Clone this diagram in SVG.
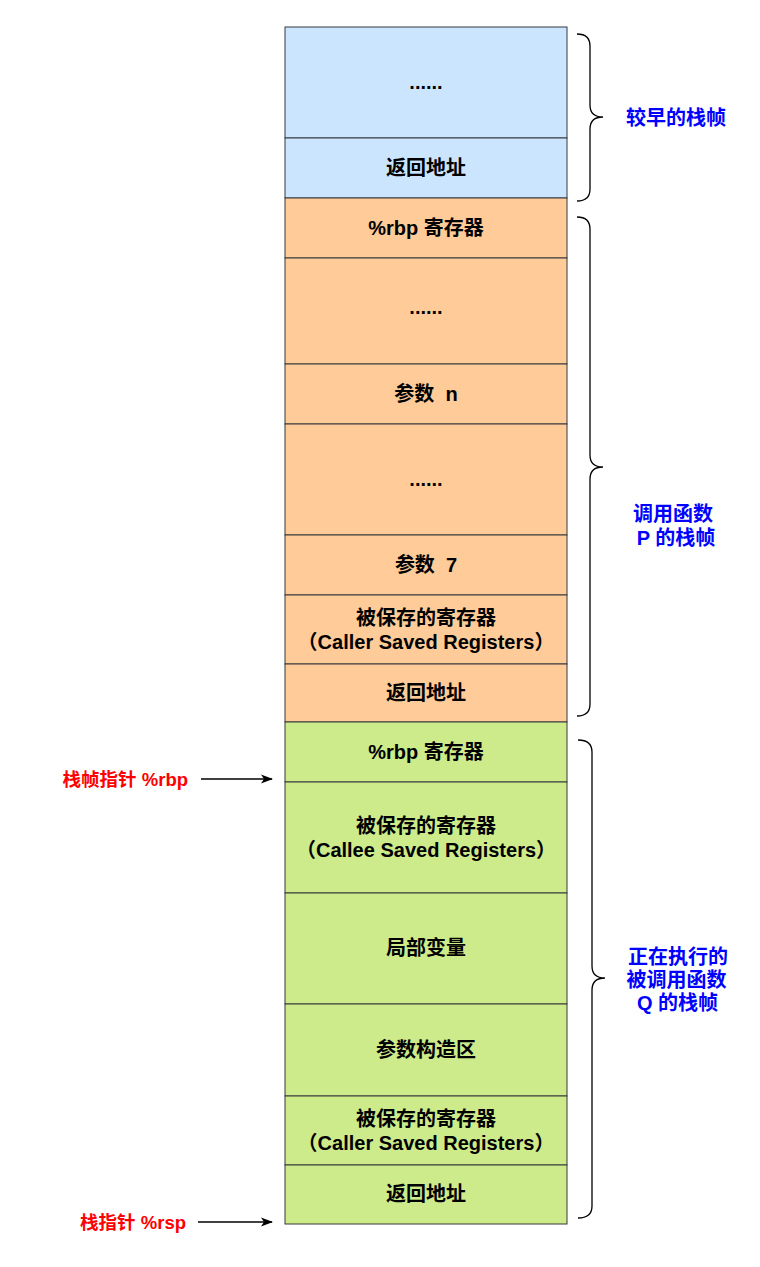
<svg xmlns="http://www.w3.org/2000/svg" width="760" height="1267" viewBox="0 0 760 1267">
<style>
.b{fill:#cce5ff;stroke:#36393d;stroke-width:1}
.o{fill:#ffcc99;stroke:#36393d;stroke-width:1}
.g{fill:#cdeb8b;stroke:#36393d;stroke-width:1}
text{font-family:"Liberation Sans","Noto Sans CJK SC",sans-serif;font-weight:bold;white-space:pre}
.t{font-size:20px;fill:#000;text-anchor:middle}
.l{font-size:20px;fill:#0000ff;text-anchor:middle}
.r{font-size:18.5px;fill:#ff0000;text-anchor:end}
.br{fill:none;stroke:#000;stroke-width:1.3}
.ar{fill:none;stroke:#000;stroke-width:1.3}
</style>
<defs>
<marker id="ah" viewBox="0 0 12 10" refX="11" refY="5" markerWidth="12" markerHeight="10" markerUnits="userSpaceOnUse" orient="auto">
<path d="M0,0.5 L12,5 L0,9.5 L3,5 Z" fill="#000"/>
</marker>
</defs>
<rect width="760" height="1267" fill="#fff"/>
<g id="n1"><rect class="b" x="285" y="27" width="282" height="111"/><text class="t" x="426" y="89">......</text></g>
<g id="n2"><rect class="b" x="285" y="138" width="282" height="60"/><text class="t" x="426" y="175">返回地址</text></g>
<g id="n3"><rect class="o" x="285" y="198" width="282" height="60"/><text class="t" x="426" y="235">%rbp 寄存器</text></g>
<g id="n4"><rect class="o" x="285" y="258" width="282" height="106"/><text class="t" x="426" y="314">......</text></g>
<g id="n5"><rect class="o" x="285" y="364" width="282" height="60"/><text class="t" x="426" y="401">参数  n</text></g>
<g id="n6"><rect class="o" x="285" y="424" width="282" height="111"/><text class="t" x="426" y="486">......</text></g>
<g id="n7"><rect class="o" x="285" y="535" width="282" height="60"/><text class="t" x="426" y="572">参数  7</text></g>
<g id="n8"><rect class="o" x="285" y="595" width="282" height="69"/><text class="t" x="426" y="624.5">被保存的寄存器</text><text class="t" x="426" y="648.5">（Caller Saved Registers）</text></g>
<g id="n9"><rect class="o" x="285" y="664" width="282" height="58"/><text class="t" x="426" y="700">返回地址</text></g>
<g id="n10"><rect class="g" x="285" y="722" width="282" height="60"/><text class="t" x="426" y="759">%rbp 寄存器</text></g>
<g id="n11"><rect class="g" x="285" y="782" width="282" height="111"/><text class="t" x="426" y="832.5">被保存的寄存器</text><text class="t" x="426" y="856.5">（Callee Saved Registers）</text></g>
<g id="n12"><rect class="g" x="285" y="893" width="282" height="111"/><text class="t" x="426" y="955">局部变量</text></g>
<g id="n13"><rect class="g" x="285" y="1004" width="282" height="92"/><text class="t" x="426" y="1057">参数构造区</text></g>
<g id="n14"><rect class="g" x="285" y="1096" width="282" height="69"/><text class="t" x="426" y="1125.5">被保存的寄存器</text><text class="t" x="426" y="1149.5">（Caller Saved Registers）</text></g>
<g id="n15"><rect class="g" x="285" y="1165" width="282" height="59"/><text class="t" x="426" y="1201">返回地址</text></g>
<g id="brace1"><path class="br" d="M577,34 Q590,34 590,46 L590,105 Q590,117 603,117 Q590,117 590,129 L590,189 Q590,201 577,201"/><text class="l" x="676" y="125">较早的栈帧</text></g>
<g id="brace2"><path class="br" d="M577,217 Q590,217 590,229 L590,455 Q590,467 603,467 Q590,467 590,479 L590,704 Q590,716 577,716"/><text class="l" x="673" y="521">调用函数</text><text class="l" x="676" y="545">P 的栈帧</text></g>
<g id="brace3"><path class="br" d="M578,740 Q592,740 592,752 L592,966 Q592,978 605,978 Q592,978 592,990 L592,1206 Q592,1218 578,1218"/><text class="l" x="678" y="964">正在执行的</text><text class="l" x="676.5" y="987">被调用函数</text><text class="l" x="677.5" y="1010">Q 的栈帧</text></g>
<g id="lbl-rbp"><text class="r" x="188" y="785.5">栈帧指针 %rbp</text></g>
<g id="lbl-rsp"><text class="r" x="186" y="1228.5">栈指针 %rsp</text></g>
<g id="connectors">
<path class="ar" d="M201,779 L272,779" marker-end="url(#ah)"/>
<path class="ar" d="M198,1222 L272,1222" marker-end="url(#ah)"/>
</g>
</svg>
